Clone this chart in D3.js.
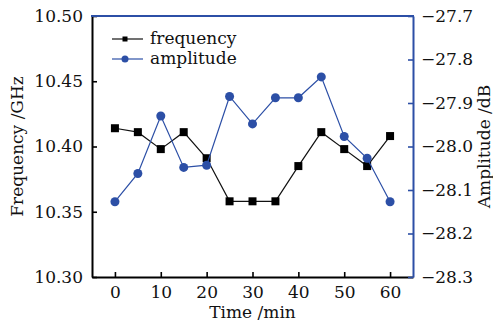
<!DOCTYPE html>
<html>
<head>
<meta charset="utf-8">
<script src="https://cdn.jsdelivr.net/npm/d3@7"></script>
<style>
  html, body { margin: 0; padding: 0; background: #fff; }
  svg text { font-family: "DejaVu Serif", "Liberation Serif", serif; }
</style>
</head>
<body>
<svg id="chart" width="493" height="326"></svg>
<script>
// Time axis (minutes) and the two measured series
const times = [0, 5, 10, 15, 20, 25, 30, 35, 40, 45, 50, 55, 60];
const frequency = [10.414, 10.411, 10.398, 10.411, 10.391, 10.358, 10.358, 10.358, 10.385, 10.411, 10.398, 10.385, 10.408];
const amplitude = [-28.127, -28.062, -27.930, -28.048, -28.043, -27.885, -27.948, -27.888, -27.888, -27.840, -27.977, -28.027, -28.127];

const xTicks = [0, 10, 20, 30, 40, 50, 60];
const freqTicks = [10.30, 10.35, 10.40, 10.45, 10.50];
const ampTicks = [-28.3, -28.2, -28.1, -28.0, -27.9, -27.8, -27.7];

const seriesNames = ["frequency", "amplitude"];

const BLUE = "#2c4fa6";
const FONT = 17;

const margin = { left: 92, top: 16, right: 80, bottom: 49 };
const W = 493, H = 326;
const iw = W - margin.left - margin.right;
const ih = H - margin.top - margin.bottom;

const svg = d3.select("#chart");
const g = svg.append("g").attr("transform", `translate(${margin.left},${margin.top})`);

const x = d3.scaleLinear().domain([-5, 65]).range([0, iw]);
const yF = d3.scaleLinear().domain([10.30, 10.50]).range([ih, 0]);
const yA = d3.scaleLinear().domain([-28.3, -27.7]).range([ih, 0]);

const fmtMinus = s => s.replace("-", "\u2212");

// Axes with inward ticks
const xAxis = g.append("g").attr("transform", `translate(0,${ih})`)
  .call(d3.axisBottom(x).tickValues(xTicks).tickSizeInner(-5).tickSizeOuter(0).tickPadding(9));
const yAxisL = g.append("g")
  .call(d3.axisLeft(yF).tickValues(freqTicks).tickFormat(d3.format(".2f")).tickSizeInner(-5).tickSizeOuter(0).tickPadding(9));
const yAxisR = g.append("g").attr("transform", `translate(${iw},0)`)
  .call(d3.axisRight(yA).tickValues(ampTicks).tickFormat(d => fmtMinus(d3.format(".1f")(d))).tickSizeInner(-5).tickSizeOuter(0).tickPadding(8));

[xAxis, yAxisL, yAxisR].forEach(a => {
  a.select(".domain").attr("stroke-width", 2);
  a.selectAll(".tick line").attr("stroke-width", 1.6);
  a.selectAll("text").attr("font-size", FONT).attr("fill", "#111")
    .attr("font-family", '"DejaVu Serif", serif');
});
yAxisR.select(".domain").attr("stroke", BLUE);
yAxisR.selectAll(".tick line").attr("stroke", BLUE);

// Top border in blue
g.append("line").attr("x1", -1).attr("x2", iw + 1).attr("y1", 0).attr("y2", 0)
  .attr("stroke", BLUE).attr("stroke-width", 2);

// Frequency series
const lineF = d3.line().x((d, i) => x(times[i])).y(d => yF(d));
g.append("path").datum(frequency).attr("d", lineF)
  .attr("fill", "none").attr("stroke", "#111").attr("stroke-width", 1.2);
g.selectAll(".sq").data(frequency).join("rect")
  .attr("x", (d, i) => x(times[i]) - 4).attr("y", d => yF(d) - 4)
  .attr("width", 8).attr("height", 8).attr("fill", "#000");

// Amplitude series
const lineA = d3.line().x((d, i) => x(times[i])).y(d => yA(d));
g.append("path").datum(amplitude).attr("d", lineA)
  .attr("fill", "none").attr("stroke", BLUE).attr("stroke-width", 1.2);
g.selectAll(".ci").data(amplitude).join("circle")
  .attr("cx", (d, i) => x(times[i])).attr("cy", d => yA(d))
  .attr("r", 4.5).attr("fill", BLUE);

// Legend
const leg = svg.append("g");
seriesNames.forEach((name, i) => {
  const yy = 39 + i * 20;
  const col = i === 0 ? "#111" : BLUE;
  leg.append("line").attr("x1", 112).attr("x2", 143).attr("y1", yy).attr("y2", yy)
    .attr("stroke", col).attr("stroke-width", 1.2);
  if (i === 0) {
    leg.append("rect").attr("x", 122.5).attr("y", yy - 2.5).attr("width", 5).attr("height", 5).attr("fill", "#000");
  } else {
    leg.append("circle").attr("cx", 125).attr("cy", yy).attr("r", 3.5).attr("fill", BLUE);
  }
  leg.append("text").attr("x", 150).attr("y", yy + 5).attr("font-size", FONT).attr("fill", "#111").text(name);
});

// Axis titles
svg.append("text").attr("x", margin.left + x(30)).attr("y", 318)
  .attr("text-anchor", "middle").attr("font-size", FONT).attr("fill", "#111").text("Time /min");
svg.append("text").attr("transform", `translate(23,${margin.top + ih / 2}) rotate(-90)`)
  .attr("text-anchor", "middle").attr("font-size", FONT).attr("fill", "#111").text("Frequency /GHz");
svg.append("text").attr("transform", `translate(490,${margin.top + ih / 2}) rotate(-90)`)
  .attr("text-anchor", "middle").attr("font-size", FONT).attr("fill", "#111").text("Amplitude /dB");
</script>
</body>
</html>
